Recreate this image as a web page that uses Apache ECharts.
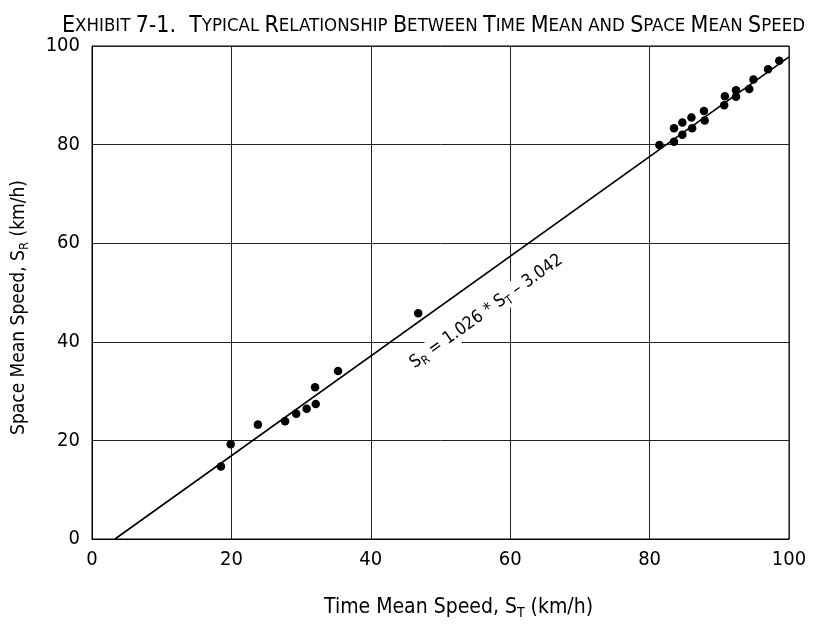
<!DOCTYPE html>
<html>
<head>
<meta charset="utf-8">
<script src="https://cdn.jsdelivr.net/npm/echarts@6/dist/echarts.min.js"></script>
<style>
html,body{margin:0;padding:0;background:#fff;}
#c{width:833px;height:625px;}
</style>
</head>
<body>
<div id="c"></div>
<script>
// ---- data ----
var timeMeanSpeed = [18.5, 19.9, 23.8, 27.7, 29.3, 30.8, 32.1, 32.0, 35.3,
  46.8,
  81.4, 83.5, 83.5, 84.7, 84.7, 86.1, 86.0, 87.9, 87.8, 90.7, 90.8, 92.4, 92.4, 94.3, 94.9, 97.0, 98.6];
var spaceMeanSpeed = [14.7, 19.2, 23.2, 23.9, 25.4, 26.4, 27.4, 30.8, 34.1,
  45.8,
  79.9, 80.6, 83.3, 82.0, 84.5, 83.3, 85.5, 84.9, 86.8, 88.0, 89.8, 89.7, 91.0, 91.3, 93.2, 95.3, 97.0];
// fitted line as drawn (end points)
var fitLineX = [3.3, 100];
var fitLineY = [0, 97.8];
var xTicks = [0, 20, 40, 60, 80, 100];
var yTicks = [0, 20, 40, 60, 80, 100];
var titleText = "Exhibit 7-1.  Typical Relationship Between Time Mean and Space Mean Speed";
var xName = ["Time Mean Speed, S", "T", " (km/h)"];
var yName = ["Space Mean Speed, S", "R", " (km/h)"];
var eqParts = ["S", "R", " = 1.026 * S", "T", " \u2013 3.042"];

var FONT = '"Liberation Sans Narrow", "DejaVu Sans Condensed", "Roboto Condensed", sans-serif';

function smallCaps(str) {
  var out = '', cur = null, buf = '';
  for (var i = 0; i < str.length; i++) {
    var ch = str[i];
    var t;
    if (ch === ' ') t = cur || 'b';
    else t = (ch >= 'a' && ch <= 'z') ? 's' : 'b';
    if (t !== cur && buf) { out += '{' + cur + '|' + buf + '}'; buf = ''; }
    cur = t;
    buf += ch.toUpperCase();
  }
  if (buf) out += '{' + cur + '|' + buf + '}';
  return out;
}

var pts = timeMeanSpeed.map(function (x, i) { return [x, spaceMeanSpeed[i]]; });
var linePts = fitLineX.map(function (x, i) { return [x, fitLineY[i]]; });

var chart = echarts.init(document.getElementById('c'), null, {renderer: 'canvas'});

var subRich = function (size, subSize) {
  return {
    n: {fontFamily: FONT, fontSize: size, color: '#000', lineHeight: size + 4, fontWeight: 'normal'},
    sub: {fontFamily: FONT, fontSize: subSize, color: '#000', lineHeight: subSize, verticalAlign: 'bottom', fontWeight: 'normal'}
  };
};

chart.setOption({
  animation: false,
  backgroundColor: '#fff',
  title: {
    text: smallCaps(titleText),
    left: 57,
    top: 10,
    textStyle: {
      fontWeight: 'normal',
      rich: {
        b: {fontFamily: FONT, fontSize: 23, color: '#000', fontWeight: 'normal'},
        s: {fontFamily: FONT, fontSize: 18.5, color: '#000', fontWeight: 'normal'}
      }
    }
  },
  grid: {
    left: 92, right: 44, top: 46, bottom: 81,
    show: true, borderColor: '#000', borderWidth: 1
  },
  xAxis: {
    type: 'value', min: 0, max: 100, interval: 20,
    axisLine: {show: true, lineStyle: {color: '#000', width: 1}},
    axisTick: {show: false},
    splitLine: {show: true, lineStyle: {color: '#222', width: 1}},
    axisLabel: {fontFamily: FONT, fontSize: 20, color: '#000', margin: 11,
      formatter: function (v) { return xTicks.indexOf(v) >= 0 ? String(v) : ''; }},
    name: '{n|' + xName[0] + '}{sub|' + xName[1] + '}{n|' + xName[2] + '}',
    nameLocation: 'middle', nameGap: 56,
    nameTextStyle: {rich: subRich(21, 14), padding: [0, 0, 0, 36]}
  },
  yAxis: {
    type: 'value', min: 0, max: 100, interval: 20,
    axisLine: {show: true, lineStyle: {color: '#000', width: 1}},
    axisTick: {show: false},
    splitLine: {show: true, lineStyle: {color: '#222', width: 1}},
    axisLabel: {fontFamily: FONT, fontSize: 20, color: '#000', margin: 12,
      formatter: function (v) { return yTicks.indexOf(v) >= 0 ? String(v) : ''; }},
    name: '{n|' + yName[0] + '}{sub|' + yName[1] + '}{n|' + yName[2] + '}',
    nameLocation: 'middle', nameGap: 61, nameRotate: 90,
    nameTextStyle: {rich: subRich(19, 13), padding: [0, 30, 0, 0]}
  },
  series: [
    {
      type: 'line', data: linePts, symbol: 'none', silent: true,
      lineStyle: {color: '#000', width: 1.6}, z: 3
    },
    {
      type: 'scatter', data: pts, symbol: 'circle', symbolSize: 8.5,
      itemStyle: {color: '#000', opacity: 1}, z: 4
    }
  ]
});

// rotated equation label along the fitted line
var p1 = chart.convertToPixel({gridIndex: 0}, linePts[0]);
var p2 = chart.convertToPixel({gridIndex: 0}, linePts[1]);
var ang = Math.atan2(p1[1] - p2[1], p2[0] - p1[0]);
var labelAtX = 54.0;
var onLine = chart.convertToPixel({gridIndex: 0},
  [labelAtX, fitLineY[0] + (labelAtX - fitLineX[0]) * (fitLineY[1] - fitLineY[0]) / (fitLineX[1] - fitLineX[0])]);
var off = 31;
var ax = onLine[0] + off * Math.sin(ang);
var ay = onLine[1] + off * Math.cos(ang);
chart.setOption({
  graphic: [{
    type: 'text',
    x: ax, y: ay,
    rotation: ang,
    style: {
      text: '{n|' + eqParts[0] + '}{sub|' + eqParts[1] + '}{n|' + eqParts[2] + '}{sub|' + eqParts[3] + '}{n|' + eqParts[4] + '}',
      rich: subRich(17.5, 12),
      align: 'center', verticalAlign: 'middle',
      backgroundColor: '#fff',
      padding: [0, 3]
    },
    z: 10
  }]
});
</script>
</body>
</html>
